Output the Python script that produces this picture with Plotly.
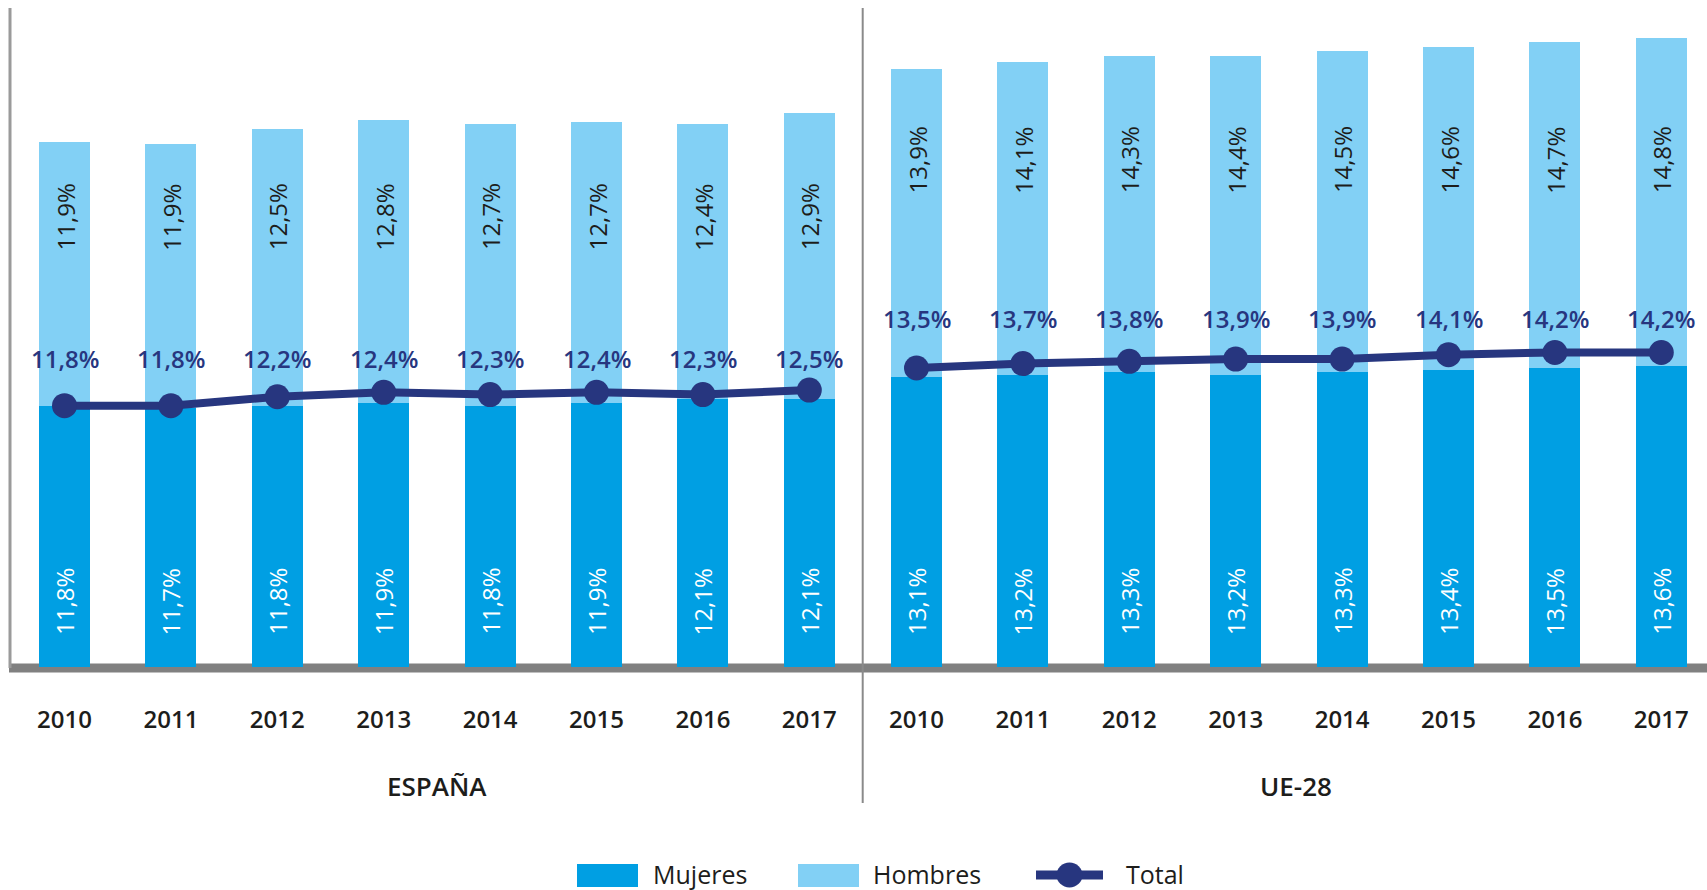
import plotly.graph_objects as go

# ---------------- data ----------------
years = ["2010", "2011", "2012", "2013", "2014", "2015", "2016", "2017"]
groups = ["ESPAÑA", "UE-28"]

esp_mujeres = [11.8, 11.7, 11.8, 11.9, 11.8, 11.9, 12.1, 12.1]
esp_hombres = [11.9, 11.9, 12.5, 12.8, 12.7, 12.7, 12.4, 12.9]
esp_total = [11.8, 11.8, 12.2, 12.4, 12.3, 12.4, 12.3, 12.5]

ue_mujeres = [13.1, 13.2, 13.3, 13.2, 13.3, 13.4, 13.5, 13.6]
ue_hombres = [13.9, 14.1, 14.3, 14.4, 14.5, 14.6, 14.7, 14.8]
ue_total = [13.5, 13.7, 13.8, 13.9, 13.9, 14.1, 14.2, 14.2]

series_names = ["Mujeres", "Hombres", "Total"]

# ---------------- style ----------------
W, H = 1707, 890
C_MUJ = "#009FE3"
C_HOM = "#82D0F5"
C_TOT = "#27367F"
C_TXT = "#1d1d1b"
C_AXIS = "#8a8a8a"
FONT = "Open Sans"

BASE_PX = 667          # baseline pixel (from top)
TOP_PX = 8
PX_PER_UNIT = 22.15
Y_MAX = (BASE_PX - TOP_PX) / PX_PER_UNIT

# label rows (pixel positions from top) per panel
LBL_TOTAL_PX = [358, 318.5]
LBL_HOM_PX = [217, 160]
LBL_MUJ_PX = 601.5


def px_to_y(p):
    return (BASE_PX - p) / PX_PER_UNIT


def fmt(v):
    return f"{v:.1f}".replace(".", ",") + "%"


def py(p):  # pixel from top -> paper y
    return (H - p) / H


def pxx(p):  # pixel from left -> paper x
    return p / W


fig = go.Figure()

panels = [
    ("x", esp_mujeres, esp_hombres, esp_total),
    ("x2", ue_mujeres, ue_hombres, ue_total),
]

annotations = []
for i, (xa, muj, hom, tot) in enumerate(panels):
    fig.add_trace(go.Bar(x=years, y=muj, name=series_names[0], marker_color=C_MUJ,
                         marker_line_width=0, xaxis=xa, yaxis="y", showlegend=False,
                         hoverinfo="skip"))
    fig.add_trace(go.Bar(x=years, y=hom, name=series_names[1], marker_color=C_HOM,
                         marker_line_width=0, xaxis=xa, yaxis="y", showlegend=False,
                         hoverinfo="skip"))
    fig.add_trace(go.Scatter(x=years, y=tot, name=series_names[2], mode="lines+markers",
                             line=dict(color=C_TOT, width=8),
                             marker=dict(color=C_TOT, size=25),
                             xaxis=xa, yaxis="y", showlegend=False, hoverinfo="skip"))
    for k, (m, h, t) in enumerate(zip(muj, hom, tot)):
        annotations.append(dict(x=k, y=px_to_y(LBL_MUJ_PX), xref=xa, yref="y",
                                text=fmt(m), textangle=-90, showarrow=False,
                                font=dict(family=FONT, size=24, color="white", weight=500),
                                xanchor="center", yanchor="middle"))
        annotations.append(dict(x=k, y=px_to_y(LBL_HOM_PX[i]), xref=xa, yref="y",
                                text=fmt(h), textangle=-90, showarrow=False,
                                font=dict(family=FONT, size=24, color=C_TXT, weight=500),
                                xanchor="center", yanchor="middle"))
        annotations.append(dict(x=k, y=px_to_y(LBL_TOTAL_PX[i]), xref=xa, yref="y",
                                text=fmt(t), showarrow=False,
                                font=dict(family=FONT, size=24, color=C_TOT, weight=600),
                                xanchor="center", yanchor="middle"))

# group labels
annotations.append(dict(x=pxx(437), y=py(786), xref="paper", yref="paper", text=groups[0],
                        showarrow=False, font=dict(family=FONT, size=26, color=C_TXT, weight=600),
                        xanchor="center", yanchor="middle"))
annotations.append(dict(x=pxx(1296), y=py(786), xref="paper", yref="paper", text=groups[1],
                        showarrow=False, font=dict(family=FONT, size=26, color=C_TXT, weight=600),
                        xanchor="center", yanchor="middle"))

# custom legend
LEG_Y = 875
shapes = []
shapes.append(dict(type="rect", xref="paper", yref="paper", x0=pxx(577), x1=pxx(638),
                   y0=py(887), y1=py(864), fillcolor=C_MUJ, line_width=0))
shapes.append(dict(type="rect", xref="paper", yref="paper", x0=pxx(798), x1=pxx(859),
                   y0=py(887), y1=py(864), fillcolor=C_HOM, line_width=0))
shapes.append(dict(type="line", xref="paper", yref="paper", x0=pxx(1036), x1=pxx(1103),
                   y0=py(LEG_Y), y1=py(LEG_Y), line=dict(color=C_TOT, width=9)))
shapes.append(dict(type="circle", xref="paper", yref="paper", x0=pxx(1056.5), x1=pxx(1082.5),
                   y0=py(LEG_Y + 12.5), y1=py(LEG_Y - 12.5), fillcolor=C_TOT, line_width=0))
for xpos, name in [(652, series_names[0]), (872, series_names[1]), (1125, series_names[2])]:
    annotations.append(dict(x=pxx(xpos), y=py(LEG_Y - 1), xref="paper", yref="paper", text=name,
                            showarrow=False, borderpad=0,
                            font=dict(family=FONT, size=25, color=C_TXT, weight=500),
                            xanchor="left", yanchor="middle"))

# baseline band, left axis line, divider
shapes.append(dict(type="rect", xref="paper", yref="paper", x0=pxx(9), x1=1,
                   y0=py(672.5), y1=py(663.5), fillcolor="#808080", line_width=0, layer="below"))
shapes.append(dict(type="line", xref="paper", yref="paper", x0=pxx(10), x1=pxx(10),
                   y0=py(668), y1=py(TOP_PX), line=dict(color="#9a9a9a", width=3), layer="below"))
shapes.append(dict(type="line", xref="paper", yref="paper", x0=pxx(862.7), x1=pxx(862.7),
                   y0=py(803), y1=py(TOP_PX), line=dict(color=C_AXIS, width=2), layer="below"))

CAT_PX = 106.4
esp_left = 64.5 - CAT_PX / 2
ue_left = 916.5 - CAT_PX / 2
ue_range_max = -0.5 + (W - ue_left) / CAT_PX

xcommon = dict(type="category", showgrid=False, zeroline=False, showline=False,
               ticks="outside", ticklen=31, tickcolor="rgba(0,0,0,0)",
               tickfont=dict(family=FONT, size=24, color=C_TXT, weight=600),
               anchor="y", fixedrange=True)

fig.update_layout(
    width=W, height=H,
    margin=dict(l=0, r=0, t=0, b=0),
    paper_bgcolor="white", plot_bgcolor="white",
    barmode="stack", bargap=0.52,
    showlegend=False,
    xaxis=dict(domain=[pxx(esp_left), pxx(esp_left + 8 * CAT_PX)], range=[-0.5, 7.5], **xcommon),
    xaxis2=dict(domain=[pxx(ue_left), 1], range=[-0.5, ue_range_max], **xcommon),
    yaxis=dict(domain=[py(BASE_PX), py(TOP_PX)], range=[0, Y_MAX], visible=False,
               fixedrange=True),
    annotations=annotations,
    shapes=shapes,
)

fig.write_html("out.html", config={"displayModeBar": False},
               post_script="document.body.style.margin='0';document.body.style.overflow='hidden';")
